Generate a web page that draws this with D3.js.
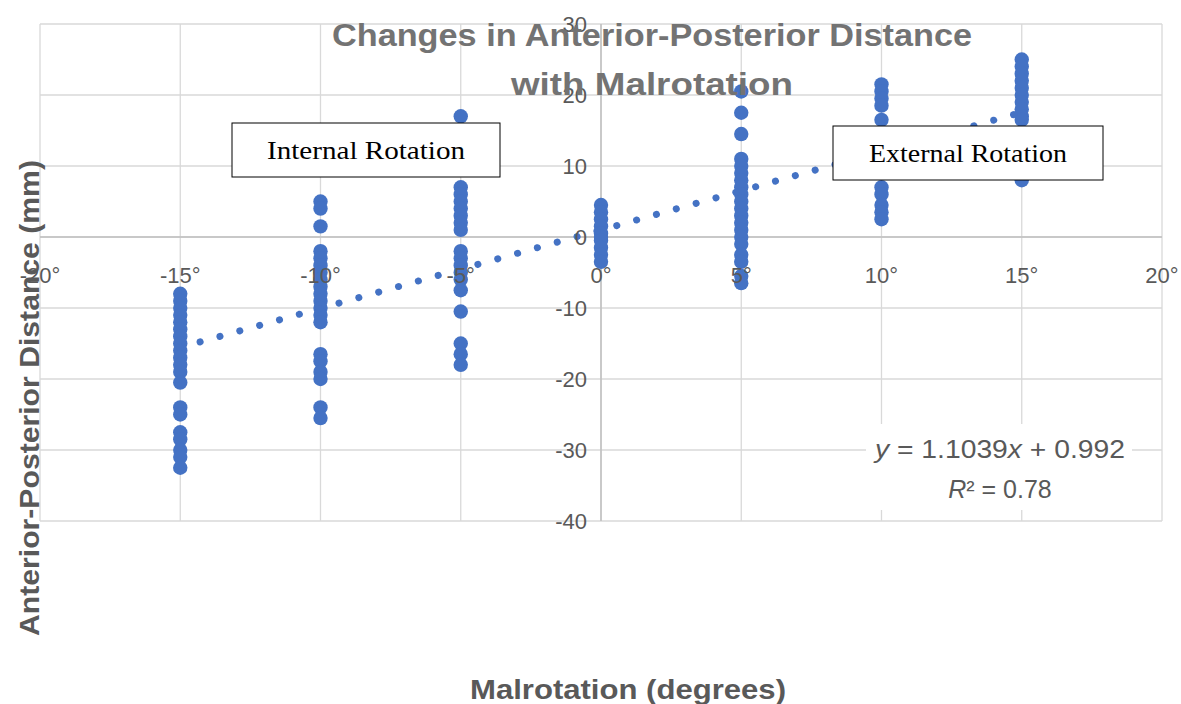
<!DOCTYPE html>
<html>
<head>
<meta charset="utf-8">
<script src="https://cdn.jsdelivr.net/npm/d3@7"></script>
<style>
  body { margin: 0; background: #fff; }
  text { font-family: "Liberation Sans", Arial, sans-serif; }
</style>
</head>
<body>
<div id="chart"></div>
<script>
const width = 1181;
const height = 704;

// data
const angles = [-15, -10, -5, 0, 5, 10, 15];
const distM15 = [-8, -9, -10, -11, -12, -13, -14, -15, -16, -17, -18, -19, -20.5, -24, -25, -27.5, -28.5, -30, -31, -32.5];
const distM10 = [5, 4, 1.5, -2, -3, -4, -5, -6, -7, -8, -9, -10, -11, -12, -16.5, -17.5, -19, -20, -24, -25.5];
const distM5 = [17, 7, 6, 5, 4, 3, 2, 1, -2, -3, -4, -5, -6, -7.5, -10.5, -15, -16.5, -18];
const dist0 = [4.5, 3.5, 2.5, 1.5, 0.5, 0, -0.5, -1.5, -2.5, -3.5];
const dist5 = [20.5, 17.5, 14.5, 11, 10, 9, 8, 7, 6, 5, 4, 3, 2, 1, 0, -1, -2.5, -3.5, -5.5, -6.5];
const dist10 = [21.5, 20.5, 19.5, 18.5, 16.5, 14, 12, 10, 7, 6, 4.5, 3.5, 2.5];
const dist15 = [25, 24, 23, 22, 21, 20, 19, 18, 17, 16.5, 14, 12, 10, 8];
const distances = [distM15, distM10, distM5, dist0, dist5, dist10, dist15];

const xTicks = [-20, -15, -10, -5, 0, 5, 10, 15, 20];
const yTicks = [30, 20, 10, 0, -10, -20, -30, -40];
const slope = 1.1039, intercept = 0.992;

const points = [];
angles.forEach((a, i) => distances[i].forEach(d => points.push({x: a, y: d})));

let svg = d3.select("#chart").append("svg").attr("width", width).attr("height", height);

const x = d3.scaleLinear().domain([-20, 20]).range([40, 1162]);
const y = d3.scaleLinear().domain([-40, 30]).range([521, 24]);

const grid = svg.append("g");
grid.selectAll(".vg").data(xTicks).join("line")
  .attr("x1", d => x(d)).attr("x2", d => x(d)).attr("y1", y(30)).attr("y2", y(-40))
  .attr("stroke", "#d9d9d9").attr("stroke-width", 1.3);
grid.selectAll(".hg").data(yTicks).join("line")
  .attr("x1", x(-20)).attr("x2", x(20)).attr("y1", d => y(d)).attr("y2", d => y(d))
  .attr("stroke", "#d9d9d9").attr("stroke-width", 1.3);

// axes through zero
svg.append("line").attr("x1", x(-20)).attr("x2", x(20)).attr("y1", y(0)).attr("y2", y(0))
  .attr("stroke", "#bfbfbf").attr("stroke-width", 1.5);
svg.append("line").attr("x1", x(0)).attr("x2", x(0)).attr("y1", y(30)).attr("y2", y(-40))
  .attr("stroke", "#bfbfbf").attr("stroke-width", 1.5);

// equation label background
svg.append("rect").attr("x", 866).attr("y", 424).attr("width", 266).attr("height", 86).attr("fill", "#fff");

// points
svg.append("g").selectAll("circle").data(points).join("circle")
  .attr("cx", d => x(d.x)).attr("cy", d => y(d.y)).attr("r", 7.2)
  .attr("fill", "#4472c4");

// trend line (dotted)
svg.append("line")
  .attr("x1", x(-15)).attr("y1", y(slope * -15 + intercept))
  .attr("x2", x(15)).attr("y2", y(slope * 15 + intercept))
  .attr("stroke", "#4472c4").attr("stroke-width", 7)
  .attr("stroke-linecap", "round").attr("stroke-dasharray", "0.1 20.5");

// annotation boxes
const boxes = [
  {label: "Internal Rotation", x: 232, y: 123, w: 268, h: 54},
  {label: "External Rotation", x: 833, y: 126, w: 270, h: 54}
];
const bx = svg.append("g").selectAll("g").data(boxes).join("g");
bx.append("rect").attr("x", d => d.x).attr("y", d => d.y).attr("width", d => d.w).attr("height", d => d.h)
  .attr("fill", "#fff").attr("stroke", "#000").attr("stroke-width", 1);
bx.append("text").attr("x", d => d.x + d.w / 2).attr("y", d => d.y + d.h / 2 + 9)
  .attr("text-anchor", "middle").style("font-family", "'Liberation Serif', 'Times New Roman', serif")
  .style("font-size", "26px").attr("fill", "#000")
  .attr("textLength", 198).attr("lengthAdjust", "spacingAndGlyphs").text(d => d.label);

// tick labels
svg.append("g").selectAll("text").data(xTicks).join("text")
  .attr("x", d => x(d)).attr("y", y(0) + 46)
  .attr("text-anchor", "middle").style("font-size", "22px").attr("fill", "#595959")
  .text(d => d + "°");
svg.append("g").selectAll("text").data(yTicks).join("text")
  .attr("x", x(0) - 14).attr("y", d => y(d) + 8)
  .attr("text-anchor", "end").style("font-size", "22px").attr("fill", "#595959")
  .text(d => d);

// equation
const eq = svg.append("text").attr("x", 1000).attr("y", 458).attr("text-anchor", "middle")
  .style("font-size", "25px").attr("fill", "#595959")
  .attr("textLength", 250).attr("lengthAdjust", "spacingAndGlyphs");
eq.append("tspan").style("font-style", "italic").text("y");
eq.append("tspan").text(" = 1.1039");
eq.append("tspan").style("font-style", "italic").text("x");
eq.append("tspan").text(" + 0.992");
const r2 = svg.append("text").attr("x", 1000).attr("y", 498).attr("text-anchor", "middle")
  .style("font-size", "25px").attr("fill", "#595959");
r2.append("tspan").style("font-style", "italic").text("R");
r2.append("tspan").text("² = 0.78");

// titles
svg.append("text").attr("x", 652).attr("y", 46).attr("text-anchor", "middle")
  .style("font-size", "32px").style("font-weight", "bold").attr("fill", "#737373")
  .attr("textLength", 640).attr("lengthAdjust", "spacingAndGlyphs")
  .text("Changes in Anterior-Posterior Distance");
svg.append("text").attr("x", 652).attr("y", 95).attr("text-anchor", "middle")
  .style("font-size", "32px").style("font-weight", "bold").attr("fill", "#737373")
  .attr("textLength", 282).attr("lengthAdjust", "spacingAndGlyphs")
  .text("with Malrotation");

svg.append("text").attr("transform", "translate(39,398) rotate(-90)").attr("text-anchor", "middle")
  .style("font-size", "28px").style("font-weight", "bold").attr("fill", "#595959")
  .attr("textLength", 476).attr("lengthAdjust", "spacingAndGlyphs")
  .text("Anterior-Posterior Distance (mm)");
svg.append("text").attr("x", 628).attr("y", 699).attr("text-anchor", "middle")
  .style("font-size", "28px").style("font-weight", "bold").attr("fill", "#595959")
  .attr("textLength", 316).attr("lengthAdjust", "spacingAndGlyphs")
  .text("Malrotation (degrees)");
</script>
</body>
</html>
